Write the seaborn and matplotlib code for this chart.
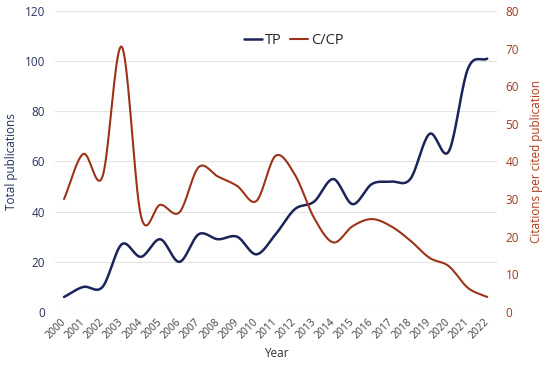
import numpy as np
import pandas as pd
import matplotlib
matplotlib.use("Agg")
import matplotlib.pyplot as plt
import seaborn as sns

years = list(range(2000, 2023))
tp = [6, 10, 10, 27, 22, 29, 20, 31, 29, 30, 23, 31, 41, 44, 53, 43, 51, 52, 53, 71, 64, 97, 101]
ccp = [30, 42, 36, 70.5, 25.5, 28.5, 26.5, 38.5, 36, 33.5, 29.5, 41.5, 36.5, 25, 18.5, 22.8, 24.7, 22.8, 19, 14.4, 12.2, 6.4, 4]

tp_color = "#1b2459"
ccp_color = "#9c3318"


def smooth(x, y, n=20):
    # Catmull-Rom style smoothing, like the spreadsheet "smoothed line" option
    x = np.asarray(x, float)
    y = np.asarray(y, float)
    px = np.concatenate([[2 * x[0] - x[1]], x, [2 * x[-1] - x[-2]]])
    py = np.concatenate([[2 * y[0] - y[1]], y, [2 * y[-1] - y[-2]]])
    xs, ys = [], []
    t = np.linspace(0, 1, n, endpoint=False)
    for i in range(1, len(px) - 2):
        for arr, out in ((px, xs), (py, ys)):
            p0, p1, p2, p3 = arr[i - 1], arr[i], arr[i + 1], arr[i + 2]
            out.extend(0.5 * (2 * p1 + (-p0 + p2) * t
                              + (2 * p0 - 5 * p1 + 4 * p2 - p3) * t ** 2
                              + (-p0 + 3 * p1 - 3 * p2 + p3) * t ** 3))
    xs.append(x[-1])
    ys.append(y[-1])
    return pd.DataFrame({"Year": xs, "value": ys})


sns.set_theme(style="white")
plt.rcParams["font.family"] = ["Open Sans", "DejaVu Sans"]

fig, ax = plt.subplots(figsize=(5.5, 3.66), dpi=100)
ax2 = ax.twinx()

sns.lineplot(data=smooth(years, tp), x="Year", y="value", ax=ax, color=tp_color,
             lw=1.8, label="TP", sort=False, legend=False)
sns.lineplot(data=smooth(years, ccp), x="Year", y="value", ax=ax2, color=ccp_color,
             lw=1.5, label="C/CP", sort=False, legend=False)

ax.set_ylim(0, 120)
ax.set_yticks(range(0, 121, 20))
ax2.set_ylim(0, 80)
ax2.set_yticks(range(0, 81, 10))
ax.set_xlim(1999.53, 2022.52)
ax.set_xticks(years)
ax.set_xticklabels([str(y) for y in years], rotation=45, ha="right", va="center",
                   rotation_mode="anchor", fontsize=7.5, color="#404040")
ax.grid(axis="y", color="#e4e4e4", lw=0.8)
ax.set_axisbelow(True)

ax.tick_params(axis="y", labelsize=8.5, colors="#2a3260", length=0, pad=7)
ax2.tick_params(axis="y", labelsize=8.5, colors="#9c3a20", length=0, pad=6)
ax.tick_params(axis="x", length=0, pad=6)

ax.set_xlabel("Year", fontsize=8.5, color="#303030", labelpad=4)
ax.set_ylabel("Total publications", fontsize=8.5, color="#1f3060", labelpad=5)
ax2.set_ylabel("Citations per cited publication", fontsize=8.5, color="#b03a1c", labelpad=8)

for a in (ax, ax2):
    for s in a.spines.values():
        s.set_visible(False)

h1, l1 = ax.get_legend_handles_labels()
h2, l2 = ax2.get_legend_handles_labels()
ax.legend(h1 + h2, l1 + l2, loc="upper center", bbox_to_anchor=(0.54, 0.97), ncol=2,
          frameon=False, fontsize=10.5, handlelength=1.2, handletextpad=0.2, columnspacing=0.6)

fig.subplots_adjust(left=0.1, right=0.904, top=0.97, bottom=0.1475)
fig.savefig("out.png", dpi=100)
